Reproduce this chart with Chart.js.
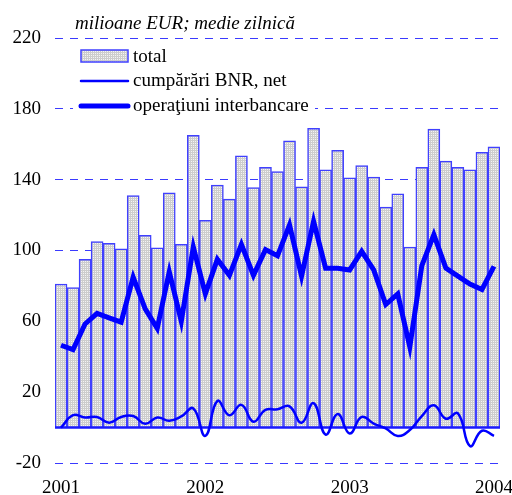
<!DOCTYPE html>
<html>
<head>
<meta charset="utf-8">
<script src="https://cdn.jsdelivr.net/npm/chart.js@4"></script>
<style>
  body { margin: 0; background: #fff; }
</style>
</head>
<body>
<canvas id="chart" width="512" height="495"></canvas>
<script>
// monthly, Jan 2001 .. Jan 2004
const months = [
  '2001-01','2001-02','2001-03','2001-04','2001-05','2001-06','2001-07','2001-08','2001-09','2001-10','2001-11','2001-12',
  '2002-01','2002-02','2002-03','2002-04','2002-05','2002-06','2002-07','2002-08','2002-09','2002-10','2002-11','2002-12',
  '2003-01','2003-02','2003-03','2003-04','2003-05','2003-06','2003-07','2003-08','2003-09','2003-10','2003-11','2003-12',
  '2004-01'
];
const total = [81, 79, 95, 105, 104, 101, 131, 108.5, 101.5, 132.5, 103.5, 165,
  117, 137, 129, 153.5, 135.5, 147, 144.5, 162, 136, 169, 145.5, 156.5,
  141, 148, 141.5, 124.5, 132, 102, 147, 168.5, 150.5, 147, 145.5, 155.5,
  158.5];
const bnr = [0, 7, 5.7, 6, 2.8, 6, 6.5, 2.1, 5.7, 3.9, 6.3, 10.8,
  -4.7, 15, 7, 12.8, 3.3, 10, 10.3, 12, 2.7, 13.8, -4, 7.6,
  -3.3, 6, 2.3, -0.5, -4.7, -1.4, 6.5, 12.6, 5, 8, -10.4, -1.8,
  -4.7];
const interbank = [46.5, 44, 58.5, 64.5, 62, 59.5, 85, 67, 56, 88, 60, 102,
  75.5, 95, 86, 103.5, 86, 100.5, 97, 114.5, 85.5, 116.5, 90, 90,
  89, 99.5, 89, 69.5, 75.5, 45.5, 91.5, 109, 90, 85.5, 81, 78,
  91];
const yTicks = [-20, 20, 60, 100, 140, 180, 220];

const canvas = document.getElementById('chart');
const ctx = canvas.getContext('2d');

// dotted grey fill like the original
const pc = document.createElement('canvas');
pc.width = 2; pc.height = 2;
const p = pc.getContext('2d');
p.fillStyle = '#cdcdcd'; p.fillRect(0, 0, 2, 2);
p.fillStyle = '#f4f4f4'; p.fillRect(1, 1, 1, 1);
const barFill = ctx.createPattern(pc, 'repeat');

const BLUE = '#0000ff';
const BAR_EDGE = '#4040ff';
const FONT = '"Liberation Serif", "Times New Roman", serif';

Chart.defaults.font.family = FONT;
Chart.defaults.font.size = 19;
Chart.defaults.color = '#000';

const zeroLine = {
  id: 'zeroLine',
  afterDatasetDraw(chart, args) {
    if (args.index !== 0) return;
    const c = chart.ctx, a = chart.chartArea;
    const y0 = chart.scales.y.getPixelForValue(0);
    c.save();
    c.strokeStyle = '#1a1aff';
    c.lineWidth = 2.5;
    c.beginPath();
    c.moveTo(a.left, y0);
    c.lineTo(a.right, y0);
    c.stroke();
    c.restore();
  }
};

const decor = {
  id: 'decor',
  afterDraw(chart) {
    const c = chart.ctx;
    c.save();
    c.fillStyle = '#000';
    c.textBaseline = 'alphabetic';
    c.font = 'italic 19px ' + FONT;
    c.fillText('milioane EUR; medie zilnică', 75, 29);

    // legend
    c.fillStyle = '#fff';
    c.fillRect(73, 43, 242, 73);
    c.fillStyle = barFill;
    c.fillRect(81, 50, 47, 12);
    c.strokeStyle = BAR_EDGE;
    c.lineWidth = 1.5;
    c.strokeRect(81, 50, 47, 12);

    c.strokeStyle = BLUE;
    c.lineCap = 'round';
    c.lineWidth = 2.5;
    c.beginPath(); c.moveTo(81, 81); c.lineTo(128, 81); c.stroke();
    c.lineWidth = 5;
    c.beginPath(); c.moveTo(81, 106); c.lineTo(128, 106); c.stroke();

    c.fillStyle = '#000';
    c.textBaseline = 'middle';
    c.font = '19px ' + FONT;
    c.fillText('total', 133, 57);
    c.fillText('cumpărări BNR, net', 133, 81);
    c.fillText('operaţiuni interbancare', 133, 106);
    c.restore();
  }
};

new Chart(canvas, {
  type: 'bar',
  data: {
    labels: months,
    datasets: [
      {
        type: 'bar',
        label: 'total',
        data: total,
        backgroundColor: barFill,
        borderColor: BAR_EDGE,
        borderWidth: 1.5,
        categoryPercentage: 1,
        barPercentage: 1,
        order: 2
      },
      {
        type: 'line',
        label: 'cumpărări BNR, net',
        data: bnr,
        borderColor: BLUE,
        borderWidth: 2.5,
        pointRadius: 0,
        tension: 0.45,
        order: 1
      },
      {
        type: 'line',
        label: 'operaţiuni interbancare',
        data: interbank,
        borderColor: BLUE,
        borderWidth: 5,
        pointRadius: 0,
        tension: 0,
        order: 0
      }
    ]
  },
  options: {
    responsive: false,
    animation: false,
    layout: { padding: { top: 38, right: 12, left: 0, bottom: 0 } },
    plugins: {
      legend: { display: false },
      tooltip: { enabled: false }
    },
    scales: {
      x: {
        grid: { display: false, drawTicks: false },
        border: { display: false },
        ticks: {
          autoSkip: false,
          maxRotation: 0,
          padding: 14,
          callback: function (v, i) {
            const m = months[i];
            return m.endsWith('-01') ? m.slice(0, 4) : '';
          }
        },
        afterFit(s) { s.height = 32; s.paddingLeft = 0; s.paddingRight = 0; }
      },
      y: {
        min: -20,
        max: 220,
        afterBuildTicks(s) { s.ticks = yTicks.map(v => ({ value: v })); },
        grid: { color: '#3a3aff', lineWidth: 1, drawTicks: false },
        border: { display: false, dash: [8, 7] },
        ticks: { padding: 14 },
        afterFit(s) { s.width = 55; }
      }
    }
  },
  plugins: [zeroLine, decor]
});
</script>
</body>
</html>
